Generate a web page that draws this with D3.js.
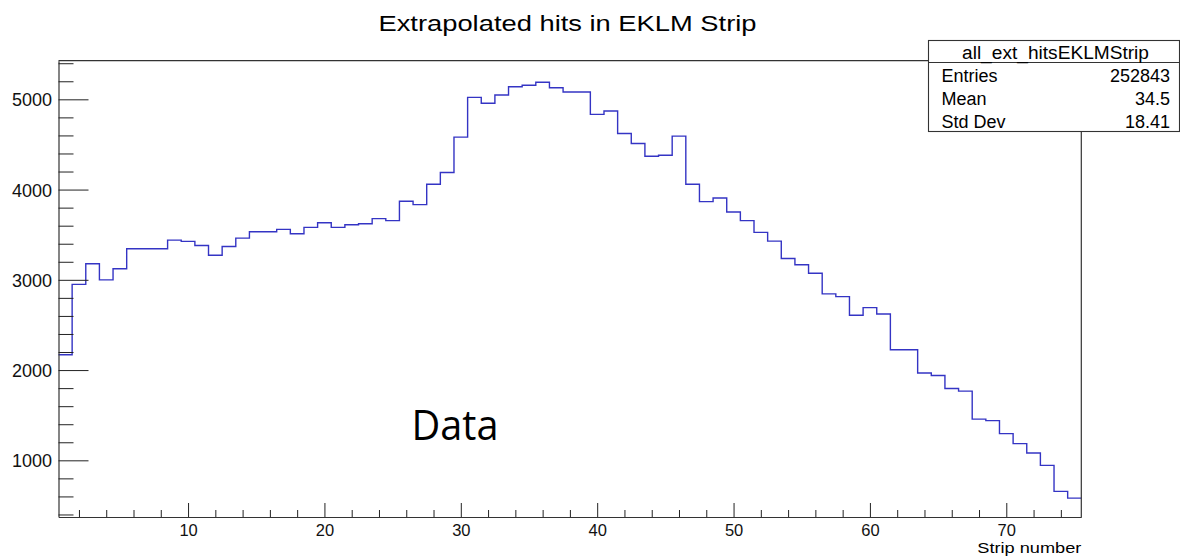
<!DOCTYPE html>
<html>
<head>
<meta charset="utf-8">
<script src="https://cdn.jsdelivr.net/npm/d3@7/dist/d3.min.js"></script>
<style>
  html, body { margin: 0; padding: 0; background: #fff; }
  svg { display: block; }
</style>
</head>
<body>
<svg id="chart" width="1180" height="558"></svg>
<script>
// ---- data ----
const title = "Extrapolated hits in EKLM Strip";
const xLabel = "Strip number";
const histName = "all_ext_hitsEKLMStrip";
const statLabels = ["Entries", "Mean", "Std Dev"];
const statValues = ["252843", "34.5", "18.41"];
const annotation = "Data";
// bin centers 1..75 (width 1)
const strips = d3.range(1, 76);
const counts = [
  2170, 2950, 3178, 3000, 3122, 3344, 3344, 3344, 3440, 3426,
  3381, 3273, 3370, 3462, 3533, 3533, 3559, 3511, 3581, 3633,
  3581, 3611, 3622, 3678, 3656, 3870, 3833, 4059, 4189, 4581,
  5022, 4956, 5048, 5140, 5156, 5189, 5129, 5081, 5081, 4833,
  4870, 4622, 4511, 4370, 4381, 4592, 4059, 3867, 3907, 3751,
  3656, 3526, 3429, 3237, 3167, 3073, 2844, 2814, 2607, 2692,
  2622, 2226, 2226, 1967, 1940, 1796, 1767, 1456, 1440, 1296,
  1185, 1081, 944, 656, 581
];
const xMajorTicks = [10, 20, 30, 40, 50, 60, 70];
const xMinorTicks = d3.range(2, 76, 2).filter(v => v % 10 !== 0);
const yMajorTicks = [1000, 2000, 3000, 4000, 5000];
const yMinorTicks = d3.range(400, 5429, 200).filter(v => v % 1000 !== 0);
const xDomain = [0.5, 75.5];
const yDomain = [372, 5428];

// ---- layout ----
const FONT = "'Liberation Sans', Arial, Helvetica, sans-serif";
const L = 58.5, R = 1081.3, T = 60.7, B = 517;
const svg = d3.select("#chart");
const x = d3.scaleLinear().domain(xDomain).range([L, R]);
const y = d3.scaleLinear().domain(yDomain).range([B, T]);

// histogram step line
const pts = [];
strips.forEach((s, i) => {
  pts.push([x(s - 0.5), y(counts[i])]);
  pts.push([x(s + 0.5), y(counts[i])]);
});
svg.append("path")
  .attr("d", d3.line()(pts))
  .attr("fill", "none")
  .attr("stroke", "#3434c4")
  .attr("stroke-width", 1.4);

// frame
const frame = svg.append("g").attr("stroke", "#333").attr("stroke-width", 1.2).attr("fill", "none");
frame.append("line").attr("x1", L).attr("x2", R).attr("y1", T).attr("y2", T);
frame.append("line").attr("x1", R).attr("x2", R).attr("y1", T).attr("y2", B);

// x axis
const xAxisMajor = d3.axisBottom(x).tickValues(xMajorTicks).tickSizeInner(-14).tickSizeOuter(0).tickPadding(7.5).tickFormat(d3.format("d"));
const gx = svg.append("g").attr("transform", `translate(0,${B})`).call(xAxisMajor);
gx.select(".domain").attr("stroke", "#333").attr("stroke-width", 1.2);
gx.selectAll(".tick line").attr("stroke", "#222");
gx.selectAll(".tick text").style("font-family", FONT).style("font-size", "16.5px").attr("fill", "#111");
const xAxisMinor = d3.axisBottom(x).tickValues(xMinorTicks).tickSize(-7).tickFormat("");
const gxm = svg.append("g").attr("transform", `translate(0,${B})`).call(xAxisMinor);
gxm.select(".domain").remove();
gxm.selectAll(".tick line").attr("stroke", "#222");

// y axis
const yAxisMajor = d3.axisLeft(y).tickValues(yMajorTicks).tickSizeInner(-30).tickSizeOuter(0).tickPadding(6).tickFormat(d3.format("d"));
const gy = svg.append("g").attr("transform", `translate(${L},0)`).call(yAxisMajor);
gy.select(".domain").attr("stroke", "#333").attr("stroke-width", 1.2);
gy.selectAll(".tick line").attr("stroke", "#222");
gy.selectAll(".tick text").style("font-family", FONT).style("font-size", "18px").attr("fill", "#111")
  .attr("x", -6.5).attr("dy", "0.36em");
const yAxisMinor = d3.axisLeft(y).tickValues(yMinorTicks).tickSize(-15).tickFormat("");
const gym = svg.append("g").attr("transform", `translate(${L},0)`).call(yAxisMinor);
gym.select(".domain").remove();
gym.selectAll(".tick line").attr("stroke", "#222");

// helper for text
function txt(xp, yp, s, size, anchor, family, len) {
  const t = svg.append("text").attr("x", xp).attr("y", yp).attr("text-anchor", anchor || "start")
    .style("font-family", family || FONT).style("font-size", size + "px").attr("fill", "#000").text(s);
  if (len) t.attr("textLength", len).attr("lengthAdjust", "spacingAndGlyphs");
  return t;
}

// x label
txt(R, 552.5, xLabel, 15, "end", null, 104);

// title
txt(567.5, 31, title, 22.5, "middle", null, 378);

// annotation
txt(411.5, 439.5, annotation, 42, "start", "'Open Sans', 'Noto Sans', sans-serif", 87);

// stats box
const bx0 = 928.5, bx1 = 1179.5, by0 = 40.5, by1 = 131.5, bdiv = 62.5;
svg.append("rect").attr("x", bx0).attr("y", by0).attr("width", bx1 - bx0).attr("height", by1 - by0)
  .attr("fill", "#fff").attr("stroke", "#333").attr("stroke-width", 1.1);
svg.append("line").attr("x1", bx0).attr("x2", bx1).attr("y1", bdiv).attr("y2", bdiv)
  .attr("stroke", "#333").attr("stroke-width", 1.1);
txt(1055.5, 58.5, histName, 18, "middle", null, 187);
statLabels.forEach((lab, i) => {
  const by = 81.7 + i * 23;
  txt(941.5, by, lab, 18, "start");
  txt(1170, by, statValues[i], 18, "end");
});
</script>
</body>
</html>
